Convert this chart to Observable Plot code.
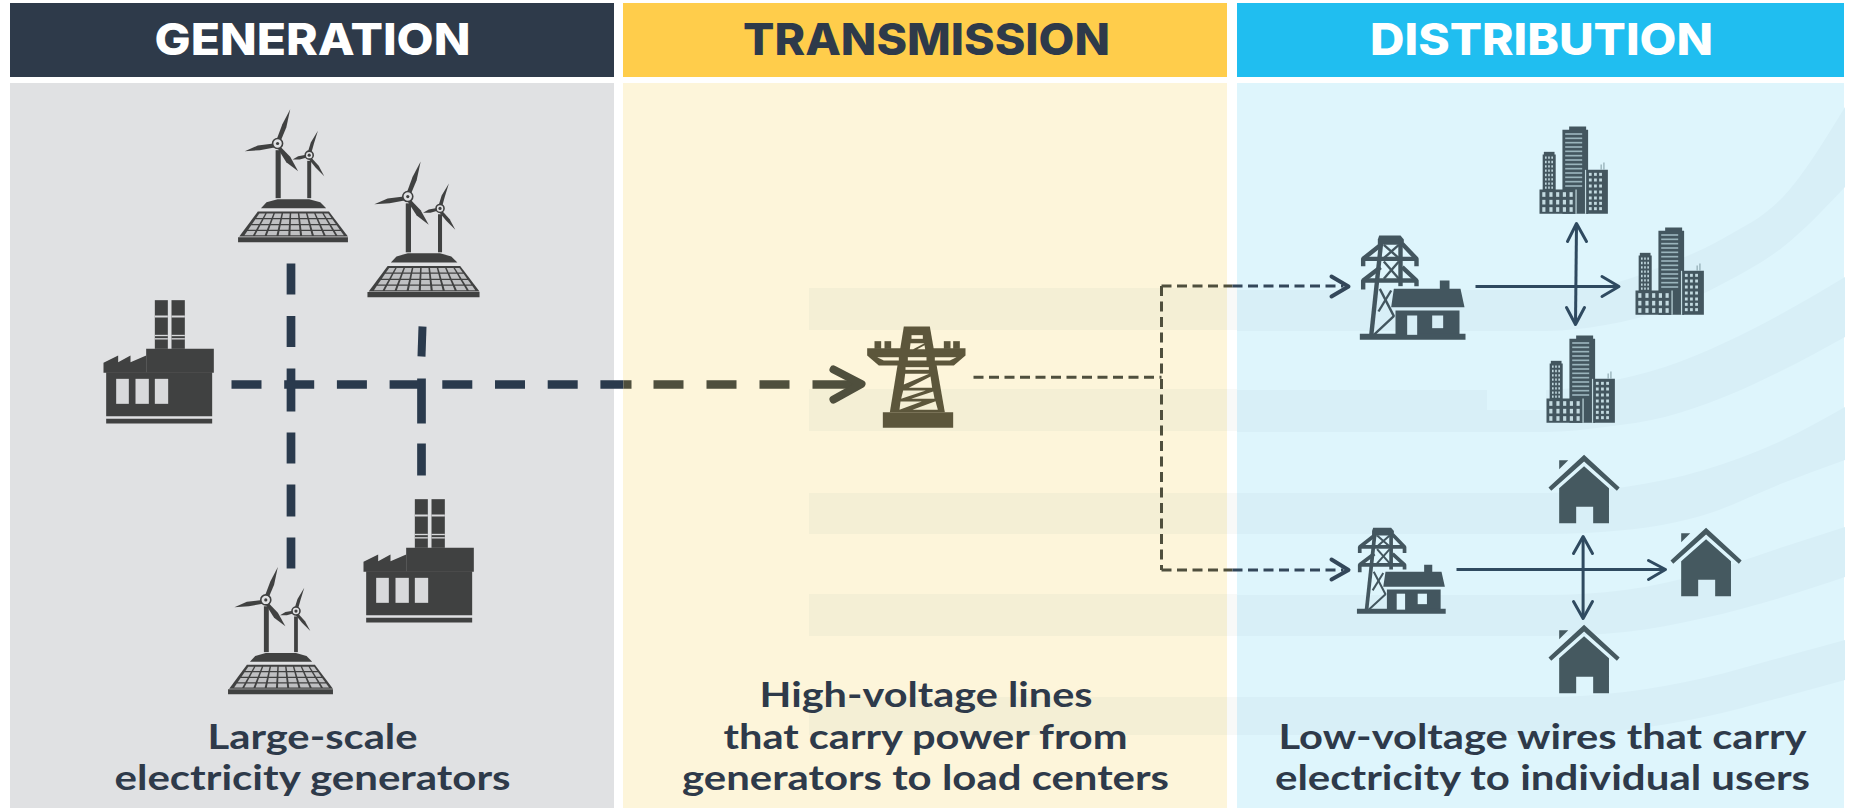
<!DOCTYPE html>
<html><head><meta charset="utf-8">
<style>html,body{margin:0;padding:0;background:#fff;width:1849px;height:808px;overflow:hidden}svg{display:block}</style>
<script src="https://cdn.jsdelivr.net/npm/d3@7"></script>
<script src="https://cdn.jsdelivr.net/npm/@observablehq/plot@0.6"></script>
</head><body><div id="chart"></div>
<script>
// ---------- content ----------
const panelNames = ["GENERATION", "TRANSMISSION", "DISTRIBUTION"];
const panelLeft = [10, 623, 1237];
const panelRight = [614, 1227, 1844];
const headerFill = ["#2E3A4A", "#FFCD4B", "#20BEF0"];
const headerText = ["#FFFFFF", "#2E3A4A", "#FFFFFF"];
const bodyFill = ["#E0E1E3", "#FDF5DA", "#DEF5FC"];
const headerCenter = [312, 926, 1541];
const headerWidth = [316, 367, 343];
const captions = [
  {x: 312, y: 748, t: "Large-scale", w: 210},
  {x: 312, y: 789, t: "electricity generators", w: 396},
  {x: 925.5, y: 706, t: "High-voltage lines", w: 333},
  {x: 925, y: 748, t: "that carry power from", w: 404},
  {x: 925, y: 789, t: "generators to load centers", w: 487},
  {x: 1542, y: 748, t: "Low-voltage wires that carry", w: 528},
  {x: 1542, y: 789, t: "electricity to individual users", w: 535}
];

// background stripes
const stripeTop = [288, 389, 493, 594, 697];
const stripeBottom = [330, 431, 534, 636, 735];
const curveBands = [
  {x: [1237, 1546, 1605, 1665, 1724, 1783, 1845], top: [290, 290, 285, 265, 238, 197, 107], bottom: [331, 331, 325, 310, 283, 247, 187]},
  {x: [1237, 1546, 1605, 1665, 1724, 1783, 1845], top: [390, 390, 382, 367, 343, 313, 277], bottom: [432, 432, 427, 417, 397, 370, 337]},
  {x: [1237, 1546, 1625, 1704, 1783, 1845], top: [493, 493, 487, 470, 440, 407], bottom: [534, 534, 530, 515, 483, 460]},
  {x: [1237, 1546, 1625, 1704, 1783, 1845], top: [595, 595, 590, 573, 547, 527], bottom: [636, 636, 632, 618, 597, 577]},
  {x: [1237, 1546, 1625, 1704, 1783, 1845], top: [697, 697, 692, 678, 657, 640], bottom: [735, 735, 730, 717, 697, 680]}
];

// icon outlines, in drawing units
const rect = (a, b, c, d) => [[a, b], [c, b], [c, d], [a, d]];

// wind turbines on a solar panel
const windDark = [
  [[697,418],[712,370],[732,325],[722,380],[708,420]],
  [[690,428],[650,434],[617,451],[655,448],[692,440]],
  [[706,436],[732,468],[752,511],[722,484],[699,441]],
  [[776,456],[784,425],[802,390],[792,428],[785,458]],
  [[772,462],[752,466],[738,476],[756,476],[774,470]],
  [[785,470],[804,495],[818,526],[796,500],[778,474]],
  rect(695, 448, 708, 592),
  rect(775, 480, 785, 592),
  [[658,622],[672,604],[700,595],[780,595],[808,604],[823,622]],
  [[650,632],[830,632],[878,707],[603,707]],
  rect(600, 709, 878, 724)
];
const windGridRows = [0.08, 0.31, 0.55, 0.78];
const windGridRowEnd = [0.26, 0.5, 0.73, 0.95];
const windGridCols = [0.04, 0.14, 0.25, 0.36, 0.47, 0.58, 0.69, 0.8, 0.91];
const windGridColEnd = [0.12, 0.23, 0.34, 0.45, 0.56, 0.67, 0.78, 0.89, 0.97];
const hubsBig = [[700, 428]];
const hubsSmall = [[780, 463]];

// factory
const factoryDark = [
  rect(178, 14, 217, 160), rect(228, 14, 268, 160),
  rect(152, 160, 355, 232),
  [[24,202],[68,180],[68,200],[105,180],[105,200],[152,180],[152,232],[24,232]],
  rect(32, 230, 350, 362),
  rect(32, 370, 350, 384)
];
const factoryLight = [
  rect(62, 250, 100, 325), rect(120, 250, 160, 325), rect(178, 250, 218, 325),
  rect(178, 60, 217, 66), rect(228, 60, 268, 66),
  rect(178, 118, 217, 122), rect(228, 118, 268, 122),
  rect(178, 128, 217, 132), rect(228, 128, 268, 132)
];

// pylon in the transmission panel
const pylonFill = [
  [[160,48],[238,48],[283,305],[118,305]],
  [[50,113],[345,113],[345,135],[310,165],[85,165],[50,135]],
  rect(72, 92, 92, 115), rect(102, 92, 122, 115), rect(280, 92, 300, 115), rect(308, 92, 328, 115),
  rect(97, 305, 308, 352)
];
const pylonHoleUpper = [
  rect(183, 74, 217, 85),
  [[180,98],[222,98],[188,116],[178,116]],
  [[222,104],[224,116],[200,116]],
  [[80,140],[145,140],[145,150],[100,150]],
  rect(172, 140, 228, 150),
  [[253,140],[318,140],[298,150],[253,150]],
  rect(165, 170, 235, 178),
  [[164,190],[236,190],[160,222]],
  [[240,198],[245,232],[175,232]]
];
const pylonHoleLower = [
  [[158,240],[226,240],[152,265]],
  [[248,243],[252,265],[182,265]],
  [[150,273],[214,273],[147,298]],
  [[255,272],[262,298],[186,298]]
];

// pylon and house
const subLines = [
  [[93,40],[62,332]], [[150,40],[150,182]],
  [[95,55],[38,100],[38,122]], [[155,55],[198,100],[198,122]],
  [[38,100],[198,100]],
  [[90,125],[38,165],[38,192]], [[155,125],[198,165],[198,182]],
  [[38,165],[198,165]]
];
const subLattice = [
  [[100,58],[145,98]], [[145,58],[100,98]],
  [[100,108],[145,160]], [[145,108],[100,160]],
  [[88,190],[130,272],[70,328]], [[84,258],[122,195]]
];
const subFill = [
  [[130,190],[268,190],[268,165],[297,165],[297,190],[330,190],[342,245],[122,245]],
  rect(135, 255, 327, 328),
  rect(28, 325, 345, 343),
  [[86,30],[150,30],[160,42],[160,58],[82,58],[82,42]]
];
const subHole = [rect(170, 270, 200, 328), rect(245, 270, 278, 308)];

// city block
const cityDark = [
  rect(857, 138, 900, 150), rect(840, 148, 905, 400), rect(793, 214, 820, 226),
  rect(790, 222, 823, 330), rect(782, 327, 873, 400), rect(900, 268, 955, 400)
];
const cityAntenna = [[[938, 268], [938, 252]], [[945, 268], [945, 246]]];
const cityStripeRows = [158, 171, 184, 197, 210, 223, 236, 249, 262, 275, 288, 301, 314];
const cityTinyRows = [228, 241, 254, 267, 280, 293, 306, 318];
const cityTinyCols = [796, 804, 812];
const cityBlockRows = [335, 358, 380];
const cityBlockCols = [789, 807, 824, 841, 858];
const citySideRows = [277, 294, 312, 330, 348, 364, 380];
const citySideCols = [907, 920, 933];
const citySeams = [rect(873, 327, 876, 400), rect(897, 268, 900, 400)];

// house
const houseFill = [
  [[805,140],[895,42],[985,140],[978,150],[895,62],[812,150]],
  [[832,58],[855,58],[832,85]],
  [[832,142],[895,76],[958,142],[958,247],[918,247],[918,198],[875,198],[875,247],[832,247]]
];

// icon placements: where each icon's anchor lands, and its zoom
const windPlaces = [{x: 292.5, y: 241, k: 1}, {x: 423, y: 296, k: 1.02}, {x: 280, y: 693, k: 0.955}];
const factoryPlaces = [{x: 103, y: 423}, {x: 363, y: 622}];
const subPlaces = [
  {x: 1360, y: 339, kx: 1, ky: 1, hole: "#D7EEF6"},
  {x: 1357, y: 613, kx: 0.84, ky: 0.825, hole: "#DEF5FC"}
];
const cityPlaces = [{x: 1539, y: 214}, {x: 1635, y: 315}, {x: 1546, y: 423}];
const housePlaces = [{x: 1548, y: 523}, {x: 1670, y: 596}, {x: 1548, y: 693}];

// connectors
const navy = "#2A3A4D", olive = "#4F4F3D", wire = "#2F4A60", thinNavy = "#33475A";
const heavyDashes = [
  {x: [290.5, 290.5], y: [263, 411], dash: "31 21.5 31 21.5 43", c: navy, w: 8.7},
  {x: [290.5, 290.5], y: [432, 568], dash: "31 21 32 21 31", c: navy, w: 8.7},
  {x: [422, 421], y: [326, 356], dash: "none", c: navy, w: 8},
  {x: [421, 421], y: [378, 423], dash: "none", c: navy, w: 8.7},
  {x: [421, 421], y: [443, 475], dash: "none", c: navy, w: 8.7},
  {x: [231, 623], y: [384, 384], dash: "30 22.7", c: navy, w: 8.5},
  {x: [623, 855], y: [384, 384], dash: "8 22 30 23 30 23 30 23 42", c: olive, w: 8.5}
];
const thinDashes = [
  {x: [973, 1161], y: [376.7, 376.7], c: olive},
  {x: [1161, 1161], y: [285.6, 569.6], c: olive},
  {x: [1161, 1232], y: [285.6, 285.6], c: olive},
  {x: [1161, 1232], y: [569.6, 569.6], c: olive},
  {x: [1232, 1343], y: [285.6, 285.6], c: thinNavy},
  {x: [1232, 1343], y: [569.6, 569.6], c: thinNavy}
];
const arrowHeads = [
  {p: [[833, 369], [861, 383.5], [833, 399]], c: olive, w: 8},
  {p: [[1331, 276], [1348, 286], [1331, 296]], c: thinNavy, w: 4},
  {p: [[1331, 559], [1348, 569.5], [1331, 579]], c: thinNavy, w: 4},
  {p: [[1601.5, 276], [1618.5, 286], [1601.5, 296]], c: wire, w: 3},
  {p: [[1567, 241], [1576, 223], [1586, 241]], c: wire, w: 3},
  {p: [[1566, 307], [1575, 324], [1584, 307]], c: wire, w: 3},
  {p: [[1648, 560], [1665, 569], [1648, 579]], c: wire, w: 3},
  {p: [[1573, 553], [1582.6, 536], [1592, 553]], c: wire, w: 3},
  {p: [[1573, 601], [1582.6, 618], [1592, 601]], c: wire, w: 3}
];
const wires = [
  {p: [[1475, 286], [1617, 286]]}, {p: [[1576, 224], [1575, 323]]},
  {p: [[1456, 569], [1663, 569]]}, {p: [[1582.6, 537], [1582.6, 617]]}
];

// ---------- helpers ----------
const X = 1 / 2.53, Y = 1 / 3;
let uid = 0;
function rows(shapes, place) {
  const out = [];
  for (const pts of shapes) { uid++; for (const [a, b] of pts) { const q = place(a, b); out.push({x: q[0], y: q[1], id: uid}); } }
  return out;
}
const at = (pl, ox, oy) => (a, b) => {
  const kx = pl.kx ?? pl.k ?? 1, ky = pl.ky ?? pl.k ?? 1;
  return [pl.x + (a - ox) * X * kx, pl.y + (b - oy) * Y * ky];
};
const at3 = (pl, ox, oy) => (a, b) => {
  const kx = pl.kx ?? 1, ky = pl.ky ?? 1;
  return [pl.x + (a - ox) * Y * kx, pl.y + (b - oy) * Y * ky];
};
const fillShapes = (shapes, place, fill) => Plot.line(rows(shapes, place), {x: "x", y: "y", z: "id", fill, stroke: "none"});
const strokeShapes = (shapes, place, stroke, strokeWidth, extra = {}) =>
  Plot.line(rows(shapes, place), {x: "x", y: "y", z: "id", stroke, strokeWidth, strokeLinecap: "butt", strokeLinejoin: "miter", ...extra});

const identity = (a, b) => [a, b];
const marks = [];

// panels
panelNames.forEach((n, i) => {
  marks.push(Plot.rect([0], {x1: panelLeft[i], x2: panelRight[i], y1: 3, y2: 77, fill: headerFill[i]}));
  marks.push(Plot.rect([0], {x1: panelLeft[i], x2: panelRight[i], y1: 83, y2: 808, fill: bodyFill[i]}));
});
// stripes
stripeTop.forEach((t, i) => {
  marks.push(Plot.rect([0], {x1: 809, x2: 1227, y1: t, y2: stripeBottom[i], fill: "#F4EFD5"}));
  marks.push(Plot.rect([0], {x1: 1227, x2: 1237, y1: t, y2: stripeBottom[i], fill: "#F8F9F8"}));
});
const bandRows = curveBands.flatMap((b, i) => b.x.map((x, j) => ({x, top: b.top[j], bottom: b.bottom[j], band: i})));
marks.push(Plot.area(bandRows, {x1: "x", y1: "top", y2: "bottom", z: "band", curve: "monotone-x", fill: "#D8EFF7"}));
marks.push(Plot.rect([0], {x1: 1487, x2: 1546, y1: 389, y2: 410, fill: bodyFill[2]}));
marks.push(Plot.rect([0], {x1: 1845, x2: 1849, y1: 83, y2: 808, fill: "#FFFFFF"}));

// connectors
for (const d of heavyDashes) {
  marks.push(Plot.line(d.x.map((x, i) => ({x, y: d.y[i]})), {x: "x", y: "y", stroke: d.c, strokeWidth: d.w, strokeLinecap: "butt", strokeDasharray: d.dash === "none" ? undefined : d.dash}));
}
for (const d of thinDashes) {
  marks.push(Plot.line(d.x.map((x, i) => ({x, y: d.y[i]})), {x: "x", y: "y", stroke: d.c, strokeWidth: 3, strokeLinecap: "butt", strokeDasharray: "10 5.5"}));
}
for (const a of arrowHeads) marks.push(strokeShapes([a.p], identity, a.c, a.w, {strokeLinecap: "round", strokeLinejoin: "round"}));
marks.push(strokeShapes(wires.map(w => w.p), identity, wire, 3));

// wind + solar
const gray = "#404141";
for (const pl of windPlaces) {
  const f = at(pl, 739, 722);
  marks.push(fillShapes(windDark, f, gray));
  const cells = [];
  const lerp = (a, b, t) => a + (b - a) * t;
  windGridRows.forEach((r, i) => windGridCols.forEach((c, j) => {
    const r2 = windGridRowEnd[i], c2 = windGridColEnd[j];
    const lx = t => lerp(650, 603, t), rx = t => lerp(830, 878, t), yy = t => lerp(632, 707, t);
    const pt = (u, v) => [lerp(lx(v), rx(v), u), yy(v)];
    cells.push([pt(c, r), pt(c2, r), pt(c2, r2), pt(c, r2)]);
  }));
  marks.push(fillShapes(cells, f, "#BFC0C2"));
  for (const [h, r] of [[hubsBig, 5], [hubsSmall, 4]]) {
    const d = h.map(([a, b]) => { const q = f(a, b); return {x: q[0], y: q[1]}; });
    marks.push(Plot.dot(d, {x: "x", y: "y", r, fill: bodyFill[0], stroke: gray, strokeWidth: 1.6}));
    marks.push(Plot.dot(d, {x: "x", y: "y", r: 1.6, fill: gray}));
  }
}
// factories
for (const pl of factoryPlaces) {
  const f = at3(pl, 24, 384);
  marks.push(fillShapes(factoryDark, f, gray));
  marks.push(fillShapes(factoryLight, f, "#D8D9DB"));
}
// transmission pylon
{
  const f = (a, b) => [850 + a * Y, 310 + b * Y];
  marks.push(fillShapes(pylonFill, f, "#5C563B"));
  marks.push(fillShapes(pylonHoleUpper, f, bodyFill[1]));
  marks.push(fillShapes(pylonHoleLower, f, "#F4EFD5"));
}
// pylon + house
const slate = "#43565F";
for (const pl of subPlaces) {
  const f = at3(pl, 30, 342);
  marks.push(strokeShapes(subLines, f, slate, 4.4 * pl.kx));
  marks.push(strokeShapes(subLattice, f, slate, 2.4 * pl.kx));
  marks.push(fillShapes(subFill, f, slate));
  marks.push(fillShapes(subHole, f, pl.hole));
}
// cities
for (const pl of cityPlaces) {
  const f = at(pl, 782, 402);
  marks.push(fillShapes(cityDark, f, slate));
  marks.push(strokeShapes(cityAntenna, f, "#8FA9B1", 1.2));
  marks.push(fillShapes(cityStripeRows.map(y => rect(847, y, 890, y + 5)), f, "#9AB4BC"));
  const w = [];
  for (const y of cityTinyRows) for (const x of cityTinyCols) w.push(rect(x, y, x + 4, y + 7));
  for (const y of cityBlockRows) for (const x of cityBlockCols) w.push(rect(x, y, x + 8, y + 14));
  for (const y of citySideRows) for (const x of citySideCols) w.push(rect(x, y, x + 7, y + 9));
  marks.push(fillShapes(w, f, "#C3DAE0"));
  marks.push(fillShapes(citySeams, f, "#C3DAE0"));
}
// houses
for (const pl of housePlaces) marks.push(fillShapes(houseFill, at(pl, 805, 248), "#455960"));

// text
marks.push(Plot.text(panelNames.map((t, i) => ({t, x: headerCenter[i], y: 40, c: headerText[i]})), {
  x: "x", y: "y", text: "t", fill: "c", fontSize: 44, fontWeight: 800, fontFamily: "Inter", lineAnchor: "middle", textAnchor: "middle"
}));
marks.push(Plot.text(captions, {
  x: "x", y: d => d.y - 10.5, text: "t", fill: "#2E3A4A", fontSize: 34, fontWeight: 700, fontFamily: "Lato", lineAnchor: "middle", textAnchor: "middle"
}));

const chart = Plot.plot({
  width: 1849, height: 808, margin: 0, style: {background: "transparent", overflow: "hidden"},
  x: {type: "linear", domain: [0, 1849], range: [0, 1849], axis: null},
  y: {type: "linear", domain: [0, 808], range: [0, 808], axis: null},
  color: {type: "identity"},
  marks
});
document.getElementById("chart").append(chart);

// fit each label to its measured width
const targetWidth = new Map([...panelNames.map((t, i) => [t, headerWidth[i]]), ...captions.map(c => [c.t, c.w])]);
chart.querySelectorAll("text").forEach(el => {
  const w = targetWidth.get(el.textContent);
  if (w) { el.setAttribute("textLength", w); el.setAttribute("lengthAdjust", "spacingAndGlyphs"); }
});
</script></body></html>
